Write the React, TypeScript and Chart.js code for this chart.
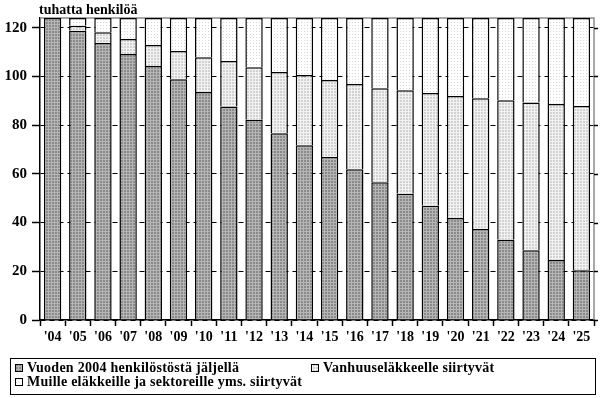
import React, { useEffect, useRef } from "react";
import { Chart, registerables } from "chart.js";

Chart.register(...registerables);

const categories = ["'04", "'05", "'06", "'07", "'08", "'09", "'10", "'11", "'12", "'13", "'14", "'15", "'16", "'17", "'18", "'19", "'20", "'21", "'22", "'23", "'24", "'25"];
const remaining = [124, 118.8, 113.7, 109.2, 104.3, 98.9, 93.6, 87.7, 82.2, 76.7, 71.8, 66.9, 61.9, 56.6, 51.8, 46.9, 41.9, 37.4, 32.9, 28.6, 24.6, 20.4];
const toOldAgePension = [0, 2.0, 4.5, 6.2, 8.6, 11.5, 14.3, 18.6, 21.6, 25.1, 28.8, 31.6, 35.0, 38.6, 42.5, 46.3, 50.1, 53.7, 57.3, 60.7, 64.1, 67.5];
const toOtherPensions = [0, 3.2, 5.8, 8.6, 11.1, 13.6, 16.1, 17.7, 20.2, 22.2, 23.4, 25.5, 27.1, 28.8, 29.7, 30.8, 32.0, 32.9, 33.8, 34.7, 35.3, 36.1];
const seriesNames = [
  "Vuoden 2004 henkilöstöstä jäljellä",
  "Vanhuuseläkkeelle siirtyvät",
  "Muille eläkkeille ja sektoreille yms. siirtyvät",
];
const yMin = 0;
const yMax = 124;
const yStep = 20;
const unitTitle = "tuhatta henkilöä";

const FONT = "'Liberation Serif', 'Times New Roman', serif";

function makePattern(ctx: CanvasRenderingContext2D, size: number, bg: string, fg: string, cells: [number, number][]) {
  const c = document.createElement("canvas");
  c.width = size;
  c.height = size;
  const g = c.getContext("2d")!;
  g.fillStyle = bg;
  g.fillRect(0, 0, size, size);
  g.fillStyle = fg;
  for (const [x, y] of cells) g.fillRect(x, y, 1, 1);
  return ctx.createPattern(c, "repeat")!;
}

export default function App() {
  const ref = useRef<HTMLCanvasElement>(null);

  useEffect(() => {
    const canvas = ref.current!;
    const ctx = canvas.getContext("2d")!;
    const gridCells: [number, number][] = [[0, 0], [1, 0], [2, 0], [0, 1], [0, 2]];
    const darkPat = makePattern(ctx, 3, "#8a8a8a", "#b6b6b6", gridCells);
    const lightPat = makePattern(ctx, 3, "#d2d2d2", "#f2f2f2", gridCells);
    const whitePat = makePattern(ctx, 3, "#ffffff", "#d6d6d6", [[1, 1]]);
    const pats = [darkPat, lightPat, whitePat];

    const framePlugin = {
      id: "frame",
      beforeDatasetsDraw(chart: any) {
        const { ctx: c, chartArea } = chart;
        c.save();
        c.strokeStyle = "#8c8c8c";
        c.lineWidth = 1.5;
        c.beginPath();
        c.moveTo(chartArea.left, chartArea.top);
        c.lineTo(chartArea.right, chartArea.top);
        c.lineTo(chartArea.right, chartArea.bottom);
        c.stroke();
        c.restore();
      },
      afterDraw(chart: any) {
        const { ctx: c, chartArea } = chart;
        const ys = chart.scales.y;
        c.save();
        c.strokeStyle = "#000";
        c.lineWidth = 1.5;
        for (const t of ys.ticks) {
          const py = Math.round(ys.getPixelForValue(t.value)) + 0.5;
          c.beginPath();
          c.moveTo(chartArea.right, py);
          c.lineTo(chartArea.right + 4, py);
          c.stroke();
        }
        c.fillStyle = "#000";
        c.font = `bold 14px ${FONT}`;
        c.textBaseline = "middle";
        c.textAlign = "left";
        c.fillText(unitTitle, 39, 10);
        c.lineWidth = 1;
        c.strokeStyle = "#000";
        c.strokeRect(10.5, 358.5, 585, 36);
        const pos = [
          [15, 368],
          [311, 368],
          [15, 382],
        ];
        try {
          (c as any).letterSpacing = "0.25px";
        } catch (e) {}
        seriesNames.forEach((name, i) => {
          const [x, y] = pos[i];
          c.fillStyle = pats[i];
          c.fillRect(x, y - 4, 8, 8);
          c.strokeStyle = "#000";
          c.lineWidth = 1;
          c.strokeRect(x + 0.5, y - 3.5, 7, 7);
          c.fillStyle = "#000";
          c.font = `bold 14px ${FONT}`;
          c.fillText(name, x + 12, y + 0.5);
        });
        c.restore();
      },
    };

    const data = [remaining, toOldAgePension, toOtherPensions];
    const chart = new Chart(ctx, {
      type: "bar",
      data: {
        labels: categories,
        datasets: data.map((d, i) => ({
          label: seriesNames[i],
          data: d,
          backgroundColor: pats[i] as any,
          borderColor: "#000",
          borderWidth: 1.5,
          borderSkipped: "start" as any,
          barPercentage: 0.69,
          categoryPercentage: 1,
        })),
      },
      options: {
        animation: false,
        responsive: false,
        devicePixelRatio: 1,
        layout: { padding: { top: 18, right: 15, left: 0, bottom: 0 } },
        plugins: { legend: { display: false }, tooltip: { enabled: false }, title: { display: false } },
        scales: {
          x: {
            stacked: true,
            offset: true,
            grid: {
              display: true,
              offset: true,
              drawOnChartArea: false,
              drawTicks: true,
              tickLength: 6,
              tickColor: "#000",
              tickWidth: 1.5,
            },
            border: { display: true, color: "#000", width: 1.5 },
            ticks: {
              color: "#000",
              font: { family: FONT, size: 14, weight: "bold" },
              padding: 3,
              maxRotation: 0,
              autoSkip: false,
            },
            afterFit(scale: any) {
              scale.height = 78;
            },
          },
          y: {
            stacked: true,
            min: yMin,
            max: yMax,
            grid: {
              display: true,
              color: "#000",
              lineWidth: 1,
              drawTicks: true,
              tickLength: 8,
              tickColor: "#000",
              tickWidth: 1.5,
              tickBorderDash: [],
            } as any,
            border: { display: true, color: "#000", width: 1.5, dash: [5, 4] },
            ticks: {
              stepSize: yStep,
              includeBounds: false,
              color: "#000",
              font: { family: FONT, size: 15, weight: "bold" },
              padding: 5,
            },
            afterFit(scale: any) {
              scale.width = 40;
            },
          },
        },
      },
      plugins: [framePlugin],
    });
    return () => chart.destroy();
  }, []);

  return (
    <div style={{ position: "fixed", left: 0, top: 0, width: 609, height: 398, background: "#fff" }}>
      <canvas ref={ref} width={609} height={398} style={{ display: "block" }} />
    </div>
  );
}
